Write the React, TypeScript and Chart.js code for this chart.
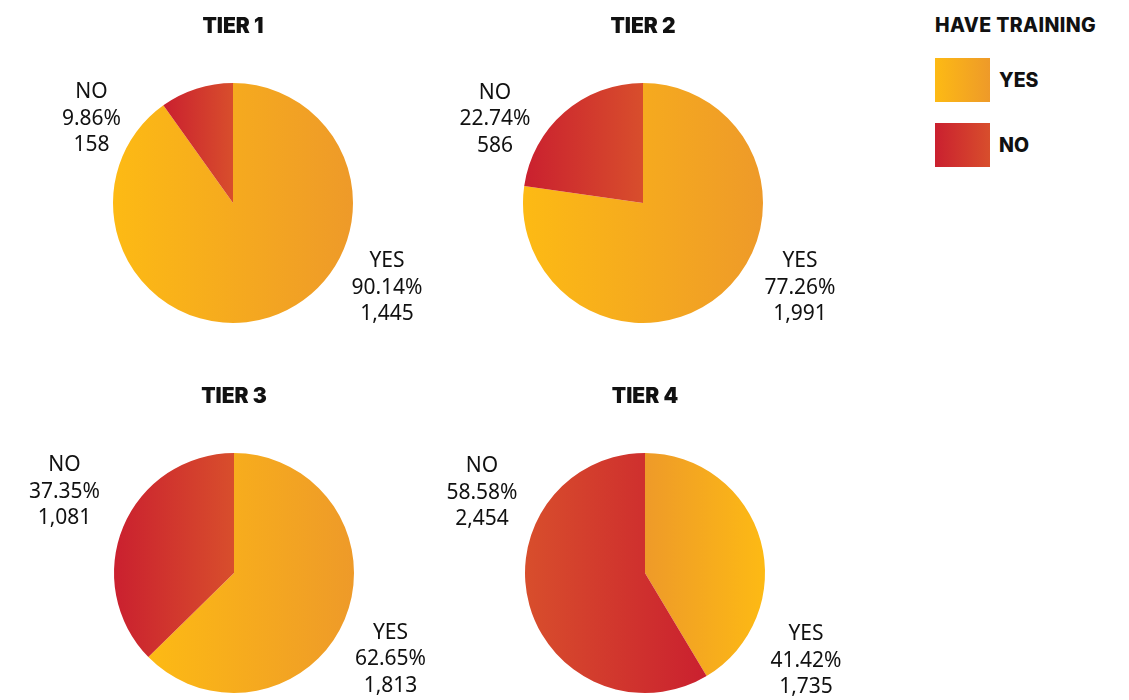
import { useEffect, useRef } from "react";
import { Chart, registerables } from "chart.js";

Chart.register(...registerables);

// ---------- data ----------
const categories = ["YES", "NO"];
const tierNames = ["TIER 1", "TIER 2", "TIER 3", "TIER 4"];
const yesCounts = [1445, 1991, 1813, 1735];
const noCounts = [158, 586, 1081, 2454];
const yesPercents = ["90.14%", "77.26%", "62.65%", "41.42%"];
const noPercents = ["9.86%", "22.74%", "37.35%", "58.58%"];
const legendTitle = "HAVE TRAINING";

// ---------- layout / style ----------
const PIE_CENTERS = [
  [233, 203],
  [643, 203],
  [233.5, 573],
  [645, 573],
];
const CANVAS_W = 430;
const CANVAS_H = 330;
const CENTER_IN_CANVAS_X = 215;
const CENTER_IN_CANVAS_Y = 200;
const PIE_R = 120;
// label offsets (first-line centre) relative to pie centre
const NO_LABEL_OFFSETS = [
  [-141.5, -112.5],
  [-148, -112],
  [-169.5, -109.5],
  [-163, -108.5],
];
const YES_LABEL_OFFSETS = [
  [154, 56.5],
  [157, 56.5],
  [156.5, 58],
  [161, 59.5],
];
const FLIP_GRADIENT = [false, false, false, true];
const YES_COLORS = ["#FDBA14", "#EE9A29"];
const NO_COLORS = ["#CA202F", "#D84E2C"];
const LINE_H = 26.5;
const LABEL_FONT = "21px 'Noto Sans', sans-serif";
const TITLE_FONT = "900 21px Inter, sans-serif";
const TEXT_COLOR = "#111111";

function fmt(n: number) {
  return n.toLocaleString("en-US");
}

function arcXRange(cx: number, r: number, s: number, e: number) {
  const xs = [cx, cx + r * Math.cos(s), cx + r * Math.cos(e)];
  for (let k = -4; k <= 8; k++) {
    const a = (k * Math.PI) / 2;
    if (a > s && a < e) xs.push(cx + r * Math.cos(a));
  }
  return [Math.min(...xs), Math.max(...xs)];
}

function makeGradient(chart: any, index: number, tier: number) {
  const area = chart.chartArea;
  const colors = index === 0 ? YES_COLORS : NO_COLORS;
  if (!area) return colors[0];
  const ds = chart.data.datasets[0].data as number[];
  const total = ds.reduce((a, b) => a + b, 0);
  let start = -Math.PI / 2;
  for (let i = 0; i < index; i++) start += (ds[i] / total) * Math.PI * 2;
  const end = start + (ds[index] / total) * Math.PI * 2;
  const cx = (area.left + area.right) / 2;
  const r = Math.min(area.right - area.left, area.bottom - area.top) / 2;
  const [x0, x1] = arcXRange(cx, r, start, end);
  const g = chart.ctx.createLinearGradient(x0, 0, x1, 0);
  const c = FLIP_GRADIENT[tier] ? [colors[1], colors[0]] : colors;
  g.addColorStop(0, c[0]);
  g.addColorStop(1, c[1]);
  return g;
}

const labelPlugin = {
  id: "tierLabels",
  afterDraw(chart: any) {
    const tier = chart.options.plugins.tierLabels.tier as number;
    const arc = chart.getDatasetMeta(0).data[0];
    if (!arc) return;
    const cx = arc.x;
    const cy = arc.y;
    const ctx = chart.ctx;
    ctx.save();
    ctx.fillStyle = TEXT_COLOR;
    ctx.textAlign = "center";
    ctx.textBaseline = "alphabetic";
    // title
    ctx.font = TITLE_FONT;
    (ctx as any).letterSpacing = "0px";
    ctx.fillText(tierNames[tier], cx, cy - 178 + 7.5);
    // labels
    ctx.font = LABEL_FONT;
    const noLines = [categories[1], noPercents[tier], fmt(noCounts[tier])];
    const yesLines = [categories[0], yesPercents[tier], fmt(yesCounts[tier])];
    const [nx, ny] = NO_LABEL_OFFSETS[tier];
    const [yx, yy] = YES_LABEL_OFFSETS[tier];
    noLines.forEach((t, i) => ctx.fillText(t, cx + nx, cy + ny + i * LINE_H + 7.5));
    yesLines.forEach((t, i) => ctx.fillText(t, cx + yx, cy + yy + i * LINE_H + 7.5));
    ctx.restore();
  },
};

function TierPie({ tier }: { tier: number }) {
  const ref = useRef<HTMLCanvasElement | null>(null);
  useEffect(() => {
    if (!ref.current) return;
    const padL = CENTER_IN_CANVAS_X - PIE_R;
    const padT = CENTER_IN_CANVAS_Y - PIE_R;
    const chart = new Chart(ref.current, {
      type: "pie",
      data: {
        labels: categories,
        datasets: [
          {
            data: [yesCounts[tier], noCounts[tier]],
            backgroundColor: (c: any) => makeGradient(c.chart, c.dataIndex, tier),
            borderWidth: 0,
          },
        ],
      },
      options: {
        animation: false,
        responsive: false,
        devicePixelRatio: 1,
        layout: {
          padding: {
            left: padL,
            right: CANVAS_W - padL - 2 * PIE_R,
            top: padT,
            bottom: CANVAS_H - padT - 2 * PIE_R,
          },
        },
        plugins: {
          legend: { display: false },
          tooltip: { enabled: false },
          tierLabels: { tier },
        } as any,
      },
      plugins: [labelPlugin],
    });
    return () => chart.destroy();
  }, [tier]);
  const [cx, cy] = PIE_CENTERS[tier];
  return (
    <canvas
      ref={ref}
      width={CANVAS_W}
      height={CANVAS_H}
      style={{
        position: "absolute",
        left: cx - CENTER_IN_CANVAS_X,
        top: cy - CENTER_IN_CANVAS_Y,
        width: CANVAS_W,
        height: CANVAS_H,
      }}
    />
  );
}

export default function App() {
  useEffect(() => {
    document.body.style.margin = "0";
  }, []);
  const swatch = (colors: string[]) => ({
    position: "absolute" as const,
    left: 935,
    width: 55,
    height: 44,
    background: `linear-gradient(to right, ${colors[0]}, ${colors[1]})`,
  });
  const legendText = {
    position: "absolute" as const,
    left: 999,
    fontFamily: "Inter, sans-serif",
    fontWeight: 800,
    fontSize: 19.5,
    color: TEXT_COLOR,
    lineHeight: "20px",
    whiteSpace: "nowrap" as const,
  };
  return (
    <div
      style={{
        position: "relative",
        width: 1129,
        height: 700,
        overflow: "hidden",
        background: "#ffffff",
      }}
    >
      {tierNames.map((_, i) => (
        <TierPie key={i} tier={i} />
      ))}
      <div style={{ ...legendText, left: 935, top: 15, letterSpacing: "0.4px" }}>{legendTitle}</div>
      <div style={{ ...swatch(YES_COLORS), top: 58 }} />
      <div style={{ ...legendText, top: 70 }}>{categories[0]}</div>
      <div style={{ ...swatch(NO_COLORS), top: 123 }} />
      <div style={{ ...legendText, top: 135 }}>{categories[1]}</div>
    </div>
  );
}
